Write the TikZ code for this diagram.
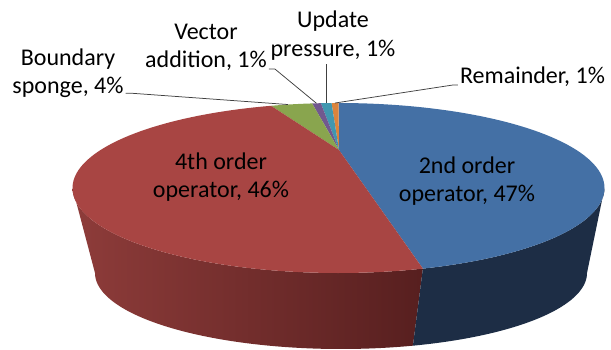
\documentclass[tikz,border=0pt]{standalone}
\usepackage{fontspec}
\setmainfont{Carlito}
\usetikzlibrary{calc}
\definecolor{cRed}{HTML}{A84543}
\definecolor{cBlue}{HTML}{4470A5}
\definecolor{cGreen}{HTML}{89A54E}
\definecolor{cPurple}{HTML}{71588F}
\definecolor{cTeal}{HTML}{4197B0}
\definecolor{cOrange}{HTML}{DB843D}
\definecolor{redL}{HTML}{8E3C3A}
\definecolor{redR}{HTML}{571F1F}
\definecolor{blueSide}{HTML}{1D2D45}
\def\TX{338.5}\def\TY{188}\def\TRX{266}\def\TRY{85}
\def\BX{341}\def\BY{273}\def\BRX{246}\def\BRY{76}
\begin{document}
\begin{tikzpicture}[x=1pt,y=-1pt,
  lbl/.style={font=\fontsize{24}{28.5}\selectfont, align=center, inner sep=0pt, text=black},
  leader/.style={draw=black!75, line width=0.75pt}]
\useasboundingbox (0,0) rectangle (611,349);
\coordinate (C) at (339,150);
% side walls
\shade[left color=redL, right color=redR]
  plot[domain=180:288.5,samples=80] ({\TX+\TRX*cos(\x)},{\TY-\TRY*sin(\x)})
  -- plot[domain=287:180,samples=80] ({\BX+\BRX*cos(\x)},{\BY-\BRY*sin(\x)}) -- cycle;
\fill[blueSide]
  plot[domain=288.5:360,samples=60] ({\TX+\TRX*cos(\x)},{\TY-\TRY*sin(\x)})
  -- plot[domain=360:287,samples=60] ({\BX+\BRX*cos(\x)},{\BY-\BRY*sin(\x)}) -- cycle;
% top slices
\fill[cBlue] (C) -- plot[domain=-71.5:90.0,samples=80] ({\TX+\TRX*cos(\x)},{\TY-\TRY*sin(\x)}) -- cycle;
\fill[cOrange] (C) -- plot[domain=90.0:91.5,samples=5] ({\TX+\TRX*cos(\x)},{\TY-\TRY*sin(\x)}) -- cycle;
\fill[cTeal] (C) -- plot[domain=91.5:93.8,samples=5] ({\TX+\TRX*cos(\x)},{\TY-\TRY*sin(\x)}) -- cycle;
\fill[cPurple] (C) -- plot[domain=93.8:95.7,samples=5] ({\TX+\TRX*cos(\x)},{\TY-\TRY*sin(\x)}) -- cycle;
\fill[cGreen] (C) -- plot[domain=95.7:104.7,samples=10] ({\TX+\TRX*cos(\x)},{\TY-\TRY*sin(\x)}) -- cycle;
\fill[cRed] (C) -- plot[domain=104.7:288.5,samples=100] ({\TX+\TRX*cos(\x)},{\TY-\TRY*sin(\x)}) -- cycle;
% leader targets on the rim
\coordinate (pOrange) at ({\TX+\TRX*cos(90.75)},{\TY-\TRY*sin(90.75)});
\coordinate (pTeal) at ({\TX+\TRX*cos(92.6)},{\TY-\TRY*sin(92.6)});
\coordinate (pPurple) at ({\TX+\TRX*cos(94.75)},{\TY-\TRY*sin(94.75)});
\coordinate (pGreen) at ({\TX+\TRX*cos(100.9)},{\TY-\TRY*sin(100.9)});
% labels
\node[lbl] (lSecond) at (467,181) {2nd order\\operator, 47\%};
\node[lbl] (lFourth) at (221,177) {4th order\\operator, 46\%};
\node[lbl] (lSponge) at (68,73.4) {Boundary\\sponge, 4\%};
\node[lbl] (lVector) at (206,47.4) {Vector\\addition, 1\%};
\node[lbl] (lUpdate) at (333,35.4) {Update\\pressure, 1\%};
\node[lbl, anchor=base] (lRem) at (532.5,83) {Remainder, 1\%};
% leaders
\draw[leader] ($(lSponge.south east)+(2,-5)$) -- ++(6,0) -- (pGreen);
\draw[leader] ($(lVector.south east)+(2,-2)$) -- ++(6,0) -- (pPurple);
\draw[leader] ($(lUpdate.south -| pTeal)+(0,4)$) -- (pTeal);
\draw[leader] ($(lRem.base west)+(-2,2)$) -- ++(-5,0) -- (pOrange);
\end{tikzpicture}
\end{document}
